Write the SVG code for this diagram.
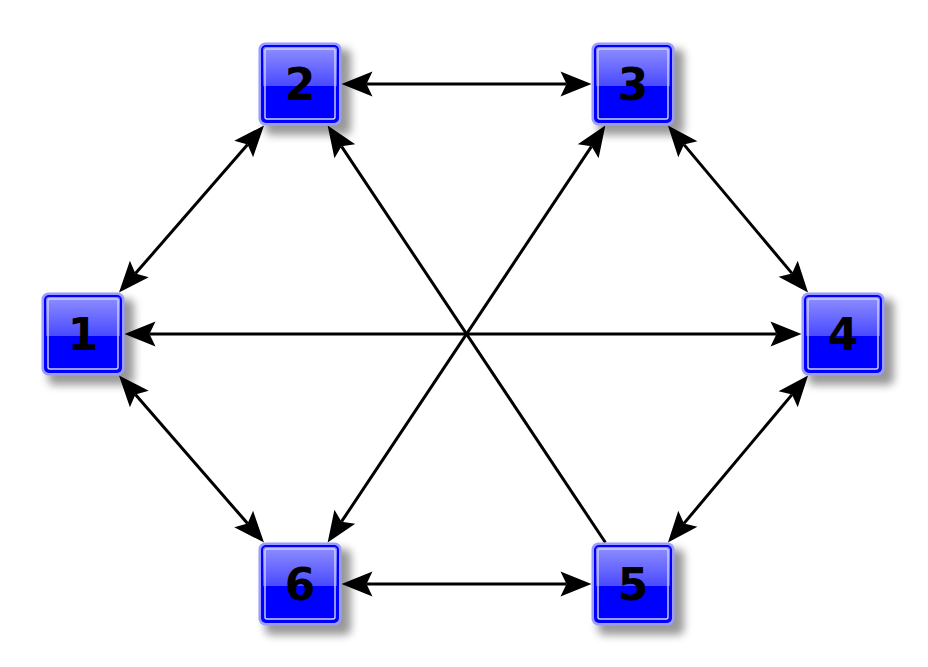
<svg xmlns="http://www.w3.org/2000/svg" xmlns:xlink="http://www.w3.org/1999/xlink" width="928" height="667" viewBox="0 0 928 667">
  <style>
    .edge { stroke: #000; stroke-width: 3; fill: none; }
    .lbl { font-family: "DejaVu Sans", "Liberation Sans", sans-serif; font-weight: bold; font-size: 44px; fill: #000; text-anchor: middle; }
  </style>
  <defs>
    <linearGradient id="topg" x1="0" y1="0" x2="0" y2="1">
      <stop offset="0" stop-color="#8e8eff"/>
      <stop offset="1" stop-color="#4a4aff"/>
    </linearGradient>
    <filter id="blur" x="-30%" y="-30%" width="160%" height="160%">
      <feGaussianBlur stdDeviation="4"/>
    </filter>
    <marker id="arr" markerUnits="userSpaceOnUse" orient="auto-start-reverse" refX="0" refY="0" markerWidth="40" markerHeight="30" overflow="visible">
      <path d="M25,0 L-6,-12.5 L0,0 L-6,12.5 Z" fill="#000"/>
    </marker>
    <g id="box">
      <rect x="-35" y="-35" width="86" height="86" rx="6" fill="#000" opacity="0.4" filter="url(#blur)"/>
      <rect x="-41.5" y="-41.5" width="83" height="83" rx="7" fill="#9c9cff"/>
      <rect x="-39" y="-39" width="78" height="78" rx="5" fill="#0000ff"/>
      <path d="M-37,2 V-34 Q-37,-37 -34,-37 H34 Q37,-37 37,-34 V2 Z" fill="url(#topg)"/>
      <rect x="-35" y="-35" width="70" height="70" rx="2" fill="none" stroke="#d0d0ff" stroke-width="1.4"/>
    </g>
  </defs>
  <rect width="928" height="667" fill="#fff"/>
  <g id="connectors">
    <line class="edge" x1="135.4" y1="273.6" x2="247.6" y2="144.4" marker-start="url(#arr)" marker-end="url(#arr)"/>
    <line class="edge" x1="366.5" y1="84" x2="566.5" y2="84" marker-start="url(#arr)" marker-end="url(#arr)"/>
    <line class="edge" x1="684.0" y1="144.6" x2="792.0" y2="273.4" marker-start="url(#arr)" marker-end="url(#arr)"/>
    <line class="edge" x1="792.0" y1="394.6" x2="684.0" y2="523.4" marker-start="url(#arr)" marker-end="url(#arr)"/>
    <line class="edge" x1="566.5" y1="584" x2="366.5" y2="584" marker-start="url(#arr)" marker-end="url(#arr)"/>
    <line class="edge" x1="247.6" y1="523.6" x2="135.4" y2="394.4" marker-start="url(#arr)" marker-end="url(#arr)"/>
    <line class="edge" x1="149.5" y1="334" x2="776.5" y2="334" marker-start="url(#arr)" marker-end="url(#arr)"/>
    <line class="edge" x1="591.5" y1="146.3" x2="341.5" y2="521.7" marker-start="url(#arr)" marker-end="url(#arr)"/>
    <line class="edge" x1="605.4" y1="542.5" x2="341.5" y2="146.3" marker-end="url(#arr)"/>
  </g>
  <g id="node1" transform="translate(83,334)"><use xlink:href="#box"/><text class="lbl" y="16">1</text></g>
  <g id="node2" transform="translate(300,84)"><use xlink:href="#box"/><text class="lbl" y="16">2</text></g>
  <g id="node3" transform="translate(633,84)"><use xlink:href="#box"/><text class="lbl" y="16">3</text></g>
  <g id="node4" transform="translate(843,334)"><use xlink:href="#box"/><text class="lbl" y="16">4</text></g>
  <g id="node5" transform="translate(633,584)"><use xlink:href="#box"/><text class="lbl" y="16">5</text></g>
  <g id="node6" transform="translate(300,584)"><use xlink:href="#box"/><text class="lbl" y="16">6</text></g>
</svg>
